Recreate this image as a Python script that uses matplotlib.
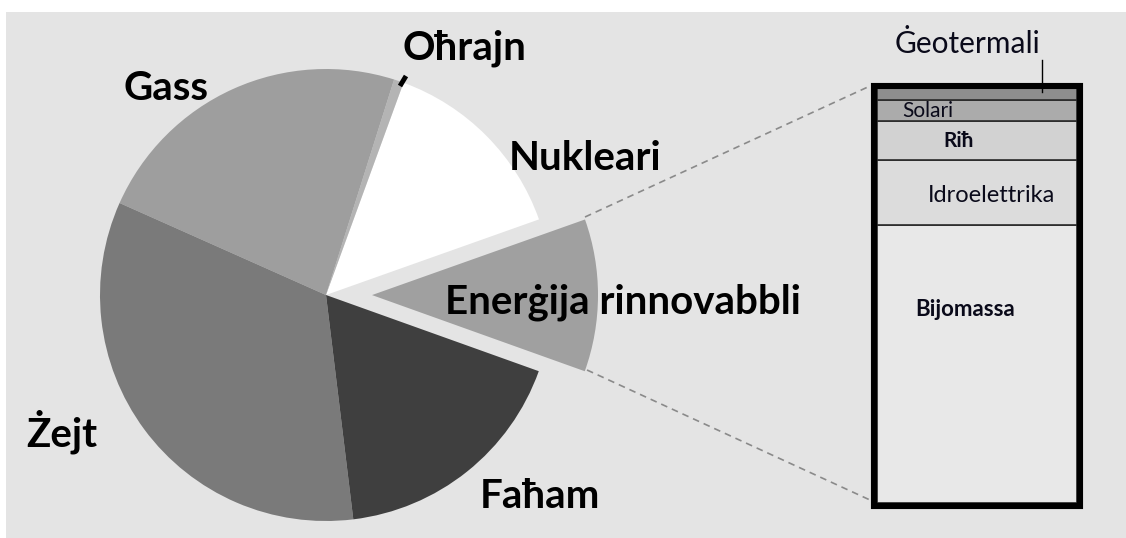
import matplotlib.pyplot as plt
from matplotlib.patches import Rectangle

# pie data (percent)
pie_labels = ['Enerġija rinnovabbli', 'Nukleari', 'Oħrajn', 'Gass', 'Żejt', 'Faħam']
pie_values = [10.9, 14.0, 0.7, 23.2, 33.6, 17.6]
pie_colors = ['#a0a0a0', '#ffffff', '#b4b4b4', '#9e9e9e', '#7a7a7a', '#3f3f3f']

# breakdown of renewables (percent of renewables), bottom to top
bar_labels = ['Bijomassa', 'Idroelettrika', 'Riħ', 'Solari', 'Ġeotermali']
bar_values = [66.9, 15.7, 9.4, 5.1, 2.9]
bar_colors = ['#e8e8e8', '#dcdcdc', '#d2d2d2', '#ababab', '#8e8e8e']

W, H = 1126, 538
fig = plt.figure(figsize=(W / 100, H / 100), dpi=100, facecolor='white')
ax = fig.add_axes([0, 0, 1, 1])

def py(y):
    return H - y

ax.add_patch(Rectangle((6, 0), W - 6, H - 12, facecolor='#e4e4e4', edgecolor='none', zorder=0))

# pie (explode is in data units here)
cx, cy, R = 326, py(295), 226
explode = [46, 0, 0, 0, 0, 0]
wedges, _ = ax.pie(pie_values, colors=pie_colors, explode=explode, startangle=-19.7,
                   counterclock=True, center=(cx, cy), radius=R, frame=True,
                   wedgeprops=dict(linewidth=0))
ax.set_xlim(0, W)
ax.set_ylim(0, H)
ax.set_aspect('equal')
ax.axis('off')

bold = dict(family='Lato', fontweight='bold', color='black', ha='center', va='center')
fs = 29
ax.text(166, py(88), 'Gass', fontsize=fs, **bold)
ax.text(464, py(48), 'Oħrajn', fontsize=fs, **bold)
ax.text(585, py(158), 'Nukleari', fontsize=fs, **bold)
ax.text(623, py(302), 'Enerġija rinnovabbli', fontsize=fs, **bold)
ax.text(62, py(432), 'Żejt', fontsize=fs, **bold)
ax.text(540, py(497), 'Faħam', fontsize=fs, **bold)
ax.plot([400, 406], [py(86), py(76)], color='black', lw=3.5, solid_capstyle='butt')

# stacked bar
bx0, bx1 = 877, 1077
by_bot, by_top = 503, 88
scale = (by_bot - by_top) / sum(bar_values)
bottom = py(by_bot)
for val, col in zip(bar_values, bar_colors):
    ax.bar((bx0 + bx1) / 2, val * scale, width=bx1 - bx0, bottom=bottom,
           color=col, edgecolor='#2a2a2a', linewidth=1.2, zorder=2)
    bottom += val * scale
ax.add_patch(Rectangle((874, py(506)), 1080 - 874, 506 - 86, facecolor='none',
                       edgecolor='black', linewidth=4.4, zorder=3))

reg = dict(family='Lato', color='#0a0a1a', ha='center', va='center')
ax.text(968, py(44), 'Ġeotermali', fontsize=21.5, **reg)
ax.text(928, py(111), 'Solari', fontsize=15, **reg)
ax.text(959, py(141), 'Riħ', fontsize=15, fontweight='bold', **reg)
ax.text(991, py(195), 'Idroelettrika', fontsize=17, **reg)
ax.text(965, py(309), 'Bijomassa', fontsize=16, fontweight='bold', **reg)
ax.plot([1042, 1042], [py(60), py(92)], color='black', lw=1, zorder=4)

# connector lines
ax.plot([585, 870], [py(217), py(86)], color='#8a8a8a', lw=1.2, ls=(0, (4, 3)), zorder=1)
ax.plot([587, 870], [py(370), py(500)], color='#8a8a8a', lw=1.2, ls=(0, (4, 3)), zorder=1)

fig.savefig('out.png', dpi=100, facecolor='white')
